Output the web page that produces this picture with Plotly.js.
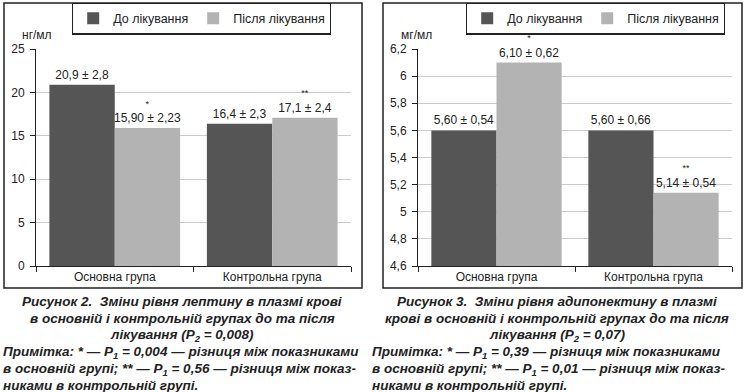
<!DOCTYPE html>
<html>
<head>
<meta charset="utf-8">
<script src="https://cdn.plot.ly/plotly-3.0.1.min.js"></script>
<style>html,body{margin:0;padding:0;background:#fff;}#chart{width:747px;height:392px;}</style>
</head>
<body>
<div id="chart"></div>
<script>
// ---- data ----
const groups = ["Основна група", "Контрольна група"];
const seriesNames = ["До лікування", "Після лікування"];
const leptinBefore = [20.9, 16.4];
const leptinAfter = [15.9, 17.1];
const leptinBeforeLabels = ["20,9 ± 2,8", "16,4 ± 2,3"];
const leptinAfterLabels = ["15,90 ± 2,23", "17,1 ± 2,4"];
const adipoBefore = [5.60, 5.60];
const adipoAfter = [6.10, 5.14];
const adipoBeforeLabels = ["5,60 ± 0,54", "5,60 ± 0,66"];
const adipoAfterLabels = ["6,10 ± 0,62", "5,14 ± 0,54"];
const afterMarks = ["*", "**"];
const leptinUnit = "нг/мл";
const adipoUnit = "мг/мл";
const leptinTicks = [0, 5, 10, 15, 20, 25];
const adipoTicks = [4.6, 4.8, 5, 5.2, 5.4, 5.6, 5.8, 6, 6.2];
const caption2 = ["Рисунок 2.  Зміни рівня лептину в плазмі крові",
  "в основній і контрольній групах до та після",
  "лікування (P<sub>2</sub> = 0,008)"];
const note2 = ["Примітка: * — P<sub>1</sub> = 0,004 — різниця між показниками",
  "в основній групі; ** — P<sub>1</sub> = 0,56 — різниця між показ-",
  "никами в контрольній групі."];
const caption3 = ["Рисунок 3.  Зміни рівня адипонектину в плазмі",
  "крові в основній і контрольній групах до та після",
  "лікування (P<sub>2</sub> = 0,07)"];
const note3 = ["Примітка: * — P<sub>1</sub> = 0,39 — різниця між показниками",
  "в основній групі; ** — P<sub>1</sub> = 0,01 — різниця між показ-",
  "никами в контрольній групі."];

// ---- layout helpers ----
const W = 747, H = 392;
const px = x => x / W;
const py = y => 1 - y / H;
const FONT = "Liberation Sans, Arial, Helvetica, sans-serif";
const DARK = "#555555", LIGHT = "#b3b3b3", INK = "#222222";

function withMarks(labels) {
  return labels.map((t, i) => '<span style="font-size:9px">' + afterMarks[i] + '</span><br>' + t);
}

const barCommon = {type: "bar", textposition: "outside", cliponaxis: false, constraintext: "none",
  textfont: {size: 12, color: INK, family: FONT}, hoverinfo: "skip"};

const data = [
  Object.assign({}, barCommon, {x: groups, y: leptinBefore, name: seriesNames[0], text: leptinBeforeLabels,
    marker: {color: DARK}, xaxis: "x", yaxis: "y", legend: "legend"}),
  Object.assign({}, barCommon, {x: groups, y: leptinAfter, name: seriesNames[1], text: withMarks(leptinAfterLabels),
    marker: {color: LIGHT}, xaxis: "x", yaxis: "y", legend: "legend"}),
  Object.assign({}, barCommon, {x: groups, y: adipoBefore, name: seriesNames[0], text: adipoBeforeLabels,
    marker: {color: DARK}, xaxis: "x2", yaxis: "y2", legend: "legend2"}),
  Object.assign({}, barCommon, {x: groups, y: adipoAfter, name: seriesNames[1], text: withMarks(adipoAfterLabels),
    marker: {color: LIGHT}, xaxis: "x2", yaxis: "y2", legend: "legend2"})
];

const xCommon = {type: "category", showline: true, linecolor: INK, linewidth: 1, ticks: "outside",
  tickson: "boundaries", ticklen: 5, tickcolor: INK, showgrid: false, fixedrange: true,
  tickfont: {size: 12, color: INK}};
const yCommon = {showline: true, linecolor: INK, linewidth: 1, ticks: "outside", ticklen: 5, tickcolor: INK,
  gridcolor: "#cccccc", gridwidth: 1, zeroline: false, fixedrange: true, ticklabelstandoff: 3,
  tickfont: {size: 12, color: INK}};

const legendCommon = {orientation: "h", xanchor: "left", yanchor: "top", bordercolor: INK, borderwidth: 1.2,
  bgcolor: "rgba(0,0,0,0)", font: {size: 12.5, color: INK, family: FONT}, itemwidth: 30,
  itemclick: false, itemdoubleclick: false};

const annotations = [];
function addText(text, x, y, anchor, size) {
  annotations.push({text: text, xref: "paper", yref: "paper", x: px(x), y: py(y), xanchor: anchor,
    yanchor: "middle", showarrow: false, font: {size: size, color: INK, family: FONT}});
}
addText(leptinUnit, 37, 35, "center", 12);
addText(adipoUnit, 417, 35, "center", 12);
const capFont = {size: 13.5, color: INK, family: FONT, weight: "bold", style: "italic"};
const capY = [301, 318, 335, 352, 369, 385];
caption2.forEach((t, i) => annotations.push({text: t, xref: "paper", yref: "paper", x: px(182), y: py(capY[i]),
  xanchor: "center", yanchor: "middle", showarrow: false, font: capFont}));
note2.forEach((t, i) => annotations.push({text: t, xref: "paper", yref: "paper", x: px(1), y: py(capY[i + 3]),
  xanchor: "left", yanchor: "middle", showarrow: false, font: capFont}));
caption3.forEach((t, i) => annotations.push({text: t, xref: "paper", yref: "paper", x: px(557), y: py(capY[i]),
  xanchor: "center", yanchor: "middle", showarrow: false, font: capFont}));
note3.forEach((t, i) => annotations.push({text: t, xref: "paper", yref: "paper", x: px(370), y: py(capY[i + 3]),
  xanchor: "left", yanchor: "middle", showarrow: false, font: capFont}));

const layout = {
  width: W, height: H, margin: {l: 0, r: 0, t: 0, b: 0}, paper_bgcolor: "#fff", plot_bgcolor: "#fff",
  font: {family: FONT, color: INK, size: 12}, separators: ", ",
  barmode: "group", bargap: 0.17, bargroupgap: 0,
  xaxis: Object.assign({}, xCommon, {domain: [px(36), px(351)], anchor: "y"}),
  yaxis: Object.assign({}, yCommon, {domain: [py(266), py(49)], anchor: "x", range: [0, 25.02], tickvals: leptinTicks}),
  xaxis2: Object.assign({}, xCommon, {domain: [px(418), px(732)], anchor: "y2"}),
  yaxis2: Object.assign({}, yCommon, {domain: [py(266), py(49)], anchor: "x2", range: [4.6, 6.2], tickvals: adipoTicks}),
  legend: Object.assign({}, legendCommon, {x: px(72), y: py(2.5)}),
  legend2: Object.assign({}, legendCommon, {x: px(466), y: py(2.5)}),
  shapes: [
    {type: "rect", xref: "paper", yref: "paper", x0: px(4), x1: px(362), y0: py(288), y1: py(3), line: {color: INK, width: 1.5}},
    {type: "rect", xref: "paper", yref: "paper", x0: px(383), x1: px(742), y0: py(288), y1: py(3), line: {color: INK, width: 1.5}}
  ],
  annotations: annotations,
  showlegend: true
};

Plotly.newPlot("chart", data, layout, {displayModeBar: false, staticPlot: true});
</script>
</body>
</html>
